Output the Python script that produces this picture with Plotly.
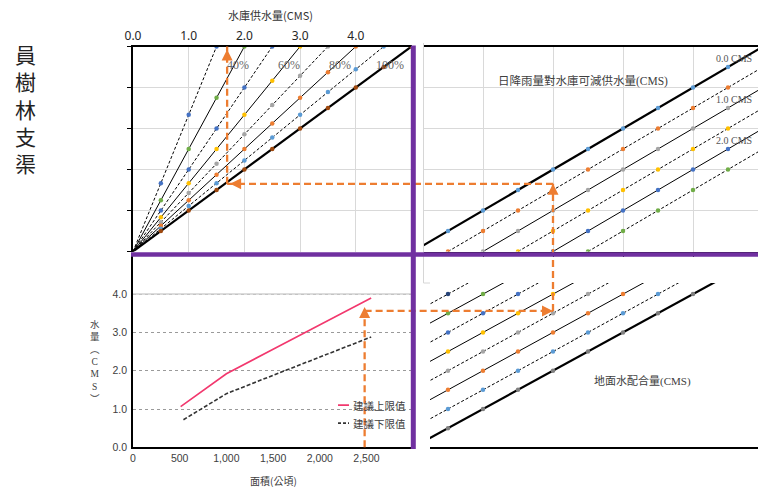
import plotly.graph_objects as go

W, H = 758, 487

# ---------------- data ----------------
# Upper-left: reservoir supply fan; every ray reaches the top of the scale at its end supply (CMS)
fan_end = [1.5, 2.0, 2.5, 3.0, 3.5, 4.0, 4.5, 5.0]
fan_top = 5.0
supply_ticks = [0, 1, 2, 3, 4]
supply_tick_text = ["0.0", "1.0", "2.0", "3.0", "4.0"]
pct_lines = [2.0, 3.0, 4.0, 5.0]

# Upper-right: reduction of reservoir supply by daily rainfall (CMS)
rain_cut = [0.0, 0.5, 1.0, 1.5, 2.0, 2.5]
rain_labelled = [0.0, 1.0, 2.0]

# Lower-right: groundwater allocation (CMS)
ground_add = [0.0, 0.5, 1.0, 1.5, 2.0, 2.5, 3.0, 3.5]

# Lower-left: recommended water amount vs irrigated area
area_upper = [510, 1000, 1500, 2000, 2550]
flow_upper = [1.06, 1.92, 2.56, 3.20, 3.90]
area_lower = [540, 1000, 1500, 2000, 2550]
flow_lower = [0.72, 1.40, 1.88, 2.35, 2.88]
area_ticks = [0, 500, 1000, 1500, 2000, 2500]
flow_ticks = [0, 1, 2, 3, 4]
upper_name = "建議上限值"
lower_name = "建議下限值"

# Worked example traced through the four quadrants
ex_area = 2480
ex_flow = 3.56
ex_ground = 2.0
ex_rain = 1.65
ex_supply = 1.69

marker_step = 0.5

# ---------------- styles ----------------
fan_dash = ["3px,2px", "solid", "3px,2px", "solid", "3px,2px", "solid", "3px,2px", "solid"]
fan_width = [1, 1, 1, 1, 1, 1, 1, 2.2]
fan_color = ["#4472C4", "#70AD47", "#4472C4", "#FFC000", "#A5A5A5", "#ED7D31", "#5B9BD5", "#9E480E"]

rain_dash = ["solid", "3px,2px", "solid", "3px,2px", "solid", "3px,2px"]
rain_width = [2.2, 1, 1, 1, 1, 1]
rain_color = ["#5B9BD5", "#ED7D31", "#A5A5A5", "#FFC000", "#4472C4", "#70AD47"]

ground_dash = ["solid", "3px,2px", "solid", "3px,2px", "solid", "3px,2px", "solid", "3px,2px"]
ground_width = [2.2, 1, 1, 1, 1, 1, 1, 1]
ground_color = ["#7F7F7F", "#5B9BD5", "#ED7D31", "#A5A5A5", "#FFC000", "#4472C4", "#70AD47", "#264478"]

ORANGE = "#ED7D31"
PURPLE = "#7030A0"
GRID = "#d9d9d9"
SERIF_CJK = "Liberation Serif, Noto Sans CJK TC"
SANS_CJK = "Noto Sans CJK TC"

# ---------------- quadrant geometry (pixel box, origin, pixels per unit) ----------------
panels = {
    "tl": dict(box=(133, 411.5, 46.5, 251.5), org=(133, 251.5), unit=(55.7, 41.0)),
    "tr": dict(box=(424, 758, 46.5, 251.5), org=(413, 251.5), unit=(70.0, 41.0)),
    "bl": dict(box=(133, 412, 256, 447.3), org=(133, 447.3), unit=(46.7 / 500, 38.3)),
    "brg": dict(box=(423, 758, 258, 447.3), org=(413, 447.3), unit=(70.0, 38.3)),
    "br": dict(box=(430, 758, 283, 447.3), org=(413, 447.3), unit=(70.0, 38.3)),
}


def dom_range(p):
    l, r, t, b = p["box"]
    ox, oy = p["org"]
    ux, uy = p["unit"]
    return (dict(domain=[l / W, r / W], range=[(l - ox) / ux, (r - ox) / ux]),
            dict(domain=[1 - b / H, 1 - t / H], range=[(oy - b) / uy, (oy - t) / uy]))


def to_paper(p, x, y):
    ox, oy = p["org"]
    ux, uy = p["unit"]
    return (ox + x * ux) / W, 1 - (oy - y * uy) / H


def px(xp, yp):
    return xp / W, 1 - yp / H


fig = go.Figure()


def line(x, y, xa, ya, color="black", width=1, dash="solid"):
    fig.add_trace(go.Scatter(x=x, y=y, mode="lines", xaxis=xa, yaxis=ya,
                             line=dict(color=color, width=width, dash=dash),
                             hoverinfo="skip", showlegend=False))


def dots(x, y, xa, ya, color):
    fig.add_trace(go.Scatter(x=x, y=y, mode="markers", xaxis=xa, yaxis=ya,
                             marker=dict(color=color, size=4.5),
                             hoverinfo="skip", showlegend=False))


# Upper-left fan
for e, d, w, c in zip(fan_end, fan_dash, fan_width, fan_color):
    line([0, e], [0, fan_top], "x", "y", width=w, dash=d)
    xs = [k * marker_step for k in range(1, int(round(e / marker_step)) + 1)]
    dots(xs, [fan_top * v / e for v in xs], "x", "y", c)

# Upper-right rainfall lines  (y = x - cut)
for cut, d, w, c in zip(rain_cut, rain_dash, rain_width, rain_color):
    line([cut, cut + 6], [0, 6], "x2", "y2", width=w, dash=d)
    xs = [k * marker_step for k in range(1, 10) if k * marker_step >= cut]
    dots(xs, [v - cut for v in xs], "x2", "y2", c)

# Lower-right groundwater lines  (y = x + add)
for add, d, w, c in zip(ground_add, ground_dash, ground_width, ground_color):
    line([0, 6], [add, 6 + add], "x5", "y5", width=w, dash=d)
    xs = [k * marker_step for k in range(1, 10) if k * marker_step + add <= 4.0]
    dots(xs, [v + add for v in xs], "x5", "y5", c)

# Lower-left recommended limits
line(area_upper, flow_upper, "x3", "y3", color="#F2386E", width=1.6)
line(area_lower, flow_lower, "x3", "y3", color="#333333", width=1.6, dash="4px,2px")

# ---------------- axes ----------------
tlx, tly = dom_range(panels["tl"])
trx, try_ = dom_range(panels["tr"])
blx, bly = dom_range(panels["bl"])
bgx, bgy = dom_range(panels["brg"])
brx, bry = dom_range(panels["br"])

common = dict(zeroline=False, showgrid=False, showticklabels=False, ticks="", showline=False)

fig.update_layout(
    width=W, height=H, margin=dict(l=0, r=0, t=0, b=0),
    template="none", paper_bgcolor="white", plot_bgcolor="rgba(0,0,0,0)",
    showlegend=False,
    xaxis=dict(common, **tlx, anchor="y", side="top", showticklabels=True,
               tickvals=supply_ticks, ticktext=supply_tick_text,
               tickfont=dict(family="Noto Sans", size=12, color="#262626"),
               showgrid=True, gridcolor=GRID, showline=True, linecolor="black", linewidth=1.5),
    yaxis=dict(common, **tly, anchor="x", tickvals=[0, 1, 2, 3, 4, 5], ticks="outside",
               ticklen=4, tickcolor="black", showgrid=True, gridcolor=GRID,
               showline=True, linecolor="black", linewidth=1.5),
    xaxis2=dict(common, **trx, anchor="y2", tickvals=[1, 2, 3, 4], showgrid=True, gridcolor=GRID,
                showline=True, mirror=True, linecolor="black", linewidth=1.5,
                ticks="outside", ticklen=4, tickcolor="black"),
    yaxis2=dict(common, **try_, anchor="x2", tickvals=[1, 2, 3, 4], showgrid=True, gridcolor=GRID),
    xaxis3=dict(common, **blx, anchor="y3", showticklabels=True, tickvals=area_ticks,
                tickformat=",d", tickfont=dict(family="Liberation Sans", size=10.5, color="#404040"),
                showline=True, linecolor="black", linewidth=1.5),
    yaxis3=dict(common, **bly, anchor="x3", showticklabels=True, tickvals=flow_ticks,
                tickformat=".1f", tickfont=dict(family="Liberation Sans", size=10.5, color="#404040"),
                ticklabelstandoff=2,
                showgrid=True, gridcolor="#9a9a9a", griddash="dot",
                showline=True, linecolor="black", linewidth=1.5),
    xaxis4=dict(common, **bgx, anchor="y4", tickvals=[1, 2, 3, 4], showgrid=True, gridcolor=GRID),
    yaxis4=dict(common, **bgy, anchor="x4", tickvals=[1, 2, 3, 4], showgrid=True, gridcolor=GRID),
    xaxis5=dict(common, **brx, anchor="y5", showline=True, linecolor="black", linewidth=1.5),
    yaxis5=dict(common, **bry, anchor="x5"),
)

# ---------------- shapes ----------------
shapes = []
# solid top gridline in the lower-left quadrant
shapes.append(dict(type="line", xref="x3", yref="y3", x0=0, x1=blx["range"][1], y0=4, y1=4,
                   line=dict(color="#d0d0d0", width=1.5), layer="between"))
# faint frame to the left of the right-hand quadrants
fx0, fy0 = px(423.5, 43)
fx1, fy1 = px(423.5, 283)
shapes.append(dict(type="line", xref="paper", yref="paper", x0=fx0, y0=fy0, x1=fx1, y1=fy1,
                   line=dict(color="#d6d6d6", width=1)))
shapes.append(dict(type="line", xref="paper", yref="paper", x0=fx1, y0=fy1, x1=px(430, 0)[0], y1=fy1,
                   line=dict(color="#d6d6d6", width=1)))

# worked-example path
P0 = to_paper(panels["bl"], ex_area, 0)
P1 = to_paper(panels["bl"], ex_area, ex_flow)
P2 = to_paper(panels["br"], ex_ground, ex_flow)
P3 = to_paper(panels["tr"], ex_ground, ex_rain)
P4 = to_paper(panels["tl"], ex_supply, ex_rain)
P5 = to_paper(panels["tl"], ex_supply, fan_top)
for a, b in [(P0, P1), (P1, P2), (P2, P3), (P3, P4), (P4, P5)]:
    shapes.append(dict(type="line", xref="paper", yref="paper", x0=a[0], y0=a[1], x1=b[0], y1=b[1],
                       line=dict(color=ORANGE, width=2.3, dash="7px,4px")))

# purple quadrant dividers
vx, vy0 = px(413.3, 45.5)
_, vy1 = px(413.3, 449)
shapes.append(dict(type="line", xref="paper", yref="paper", x0=vx, x1=vx, y0=vy0, y1=vy1,
                   line=dict(color=PURPLE, width=5)))
hx0, hy = px(131, 254.5)
shapes.append(dict(type="line", xref="paper", yref="paper", x0=hx0, x1=1, y0=hy, y1=hy,
                   line=dict(color=PURPLE, width=4.5)))

# legend samples (lower-left)
shapes.append(dict(type="line", xref="x3", yref="y3", x0=2195, x1=2313, y0=1.10, y1=1.10,
                   line=dict(color="#F2386E", width=1.6)))
shapes.append(dict(type="line", xref="x3", yref="y3", x0=2195, x1=2313, y0=0.63, y1=0.63,
                   line=dict(color="#333333", width=1.6, dash="3px,2px")))
fig.update_layout(shapes=shapes)

# ---------------- annotations ----------------
ann = []


def head(pt, dx, dy):
    ann.append(dict(xref="paper", yref="paper", x=pt[0], y=pt[1], ax=dx, ay=dy, text="",
                    showarrow=True, arrowhead=2, arrowsize=1.1, arrowwidth=2,
                    arrowcolor=ORANGE, standoff=0))


head((P1[0], P1[1] + 4 / H), 0, 8)
head(P2, -8, 0)
head(P3, 0, 8)
head((P4[0] + 3 / W, P4[1]), 8, 0)
head((P5[0], P5[1] - 3 / H), 0, 8)


def text(xp, yp, s, size, family=SANS_CJK, color="#333333", xanchor="center"):
    x, y = px(xp, yp)
    ann.append(dict(xref="paper", yref="paper", x=x, y=y, text=s, showarrow=False,
                    xanchor=xanchor, yanchor="middle", font=dict(family=family, size=size, color=color)))


text(25, 109, "員<br>樹<br>林<br>支<br>渠", 21, color="#222222")
text(270, 15, "水庫供水量(CMS)", 11, color="#333333")
text(583, 81, "日降雨量對水庫可減供水量(CMS)", 11.5, family=SERIF_CJK, color="#404040")
text(642, 381, "地面水配合量(CMS)", 11, family=SERIF_CJK, color="#404040")
text(273, 480, "面積(公頃)", 10, color="#404040")
text(95, 361, "水<br>量<br>︵<br>C<br>M<br>S<br>︶", 9.5, family=SERIF_CJK, color="#404040")

# percentage labels on the solid fan rays
for e in pct_lines:
    yl = 4.55
    ann.append(dict(xref="x", yref="y", x=e * yl / fan_top + 0.07, y=yl, text=f"{e / fan_top:.0%}",
                    showarrow=False, font=dict(family="Liberation Serif", size=12, color="#666666")))

# rainfall labels, kept inside the right edge
for cut in rain_labelled:
    ann.append(dict(xref="x2", yref="y2", x=4.3, y=4.7 - cut, text=f"{cut:.1f} CMS",
                    showarrow=False, xanchor="left",
                    font=dict(family="Liberation Serif", size=10, color="#555555")))

# legend text
for yv, name in [(1.10, upper_name), (0.63, lower_name)]:
    ann.append(dict(xref="x3", yref="y3", x=2330, y=yv, text=name, showarrow=False, xanchor="left",
                    font=dict(family=SANS_CJK, size=10.5, color="#404040")))

fig.update_layout(annotations=ann)
fig.write_html("out.html")
